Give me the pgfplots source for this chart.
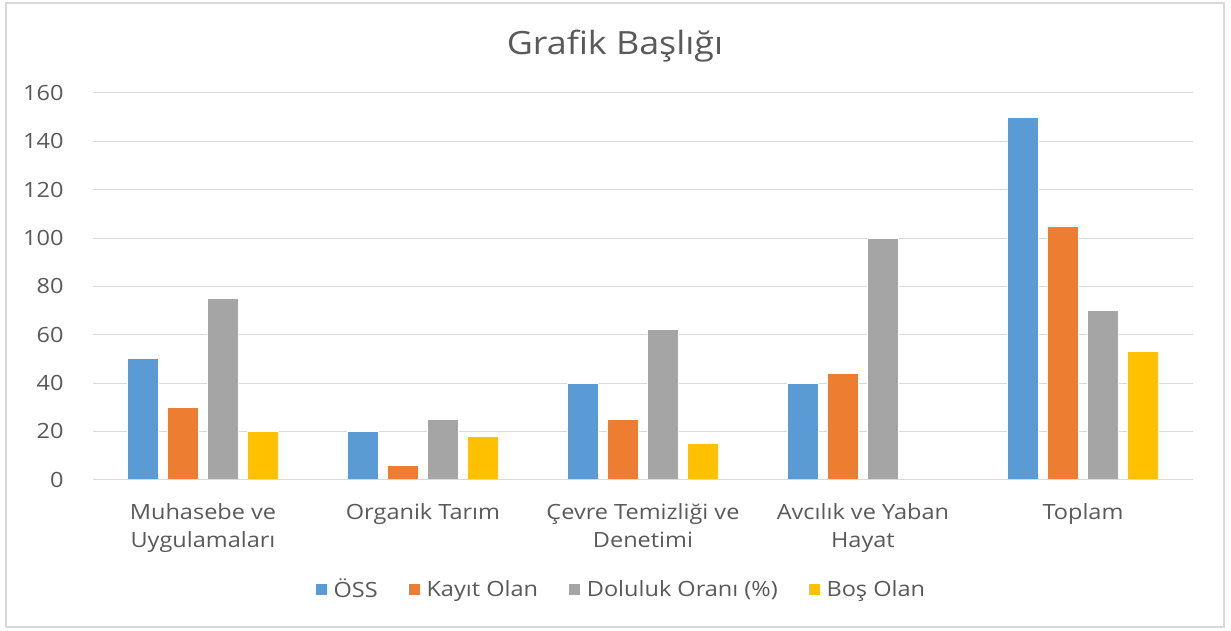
\documentclass[border=0pt]{standalone}
\usepackage{pgfplots}
\pgfplotsset{compat=1.18}
\usepackage{fontspec}
\setmainfont[FakeStretch=1.12]{Open Sans}
\definecolor{cBlue}{HTML}{5B9BD5}
\definecolor{cOrange}{HTML}{ED7D31}
\definecolor{cGray}{HTML}{A5A5A5}
\definecolor{cYellow}{HTML}{FFC000}
\definecolor{cText}{HTML}{595959}
\definecolor{cGrid}{HTML}{D9D9D9}
\begin{document}
\begin{tikzpicture}[x=1pt,y=1pt]
\useasboundingbox (-93,-151.3) rectangle (1138,479.7);
\draw[cGrid, line width=2pt] (-87,-147.3) rectangle (1131,476.7);
\node[text=cText, font=\fontsize{32}{38}\selectfont] at (522,434) {Grafik Başlığı};
\begin{axis}[
  at={(0,0)}, anchor=south west,
  scale only axis, width=1100pt, height=386.7pt,
  xmin=-0.5, xmax=4.5, ymin=0, ymax=160,
  ytick={0,20,...,160},
  xtick={0,1,2,3,4},
  xticklabels={{Muhasebe ve\\Uygulamaları},{Organik Tarım},{Çevre Temizliği ve\\Denetimi},{Avcılık ve Yaban\\Hayat},{Toplam}},
  xticklabel style={align=center, text=cText, font=\fontsize{21}{28}\selectfont, yshift=-20pt},
  yticklabel style={text=cText, font=\fontsize{21}{25}\selectfont, xshift=-26pt},
  /pgf/number format/assume math mode=true,
  axis lines=left,
  axis line style={draw=none, -},
  ymajorgrids, grid style={cGrid, line width=1pt},
  major tick length=0pt,
  ybar, bar width=0.141,
  legend style={at={(0.48,-0.283)}, anchor=center, draw=none, legend columns=4,
    font=\fontsize{21}{25}\selectfont, text=cText,
    /tikz/every odd column/.append style={column sep=4pt},
    /tikz/every even column/.append style={column sep=28pt}},
  legend image code/.code={\fill[#1] (0pt,-6pt) rectangle (12pt,6pt);},
]
\addplot[fill=cBlue, draw=white, line width=0.8pt, bar shift=-0.273] coordinates {(0,50) (1,20) (2,40) (3,40) (4,150)};
\addplot[fill=cOrange, draw=white, line width=0.8pt, bar shift=-0.091] coordinates {(0,30) (1,6) (2,25) (3,44) (4,105)};
\addplot[fill=cGray, draw=white, line width=0.8pt, bar shift=0.091] coordinates {(0,75) (1,25) (2,62) (3,100) (4,70)};
\addplot[fill=cYellow, draw=white, line width=0.8pt, bar shift=0.273] coordinates {(0,20) (1,18) (2,15) (4,53)};
\legend{ÖSS, Kayıt Olan, Doluluk Oranı (\%), Boş Olan}
\draw[cGrid, line width=1.5pt] (axis cs:-0.5,0) -- (axis cs:4.5,0);
\end{axis}
\end{tikzpicture}
\end{document}
